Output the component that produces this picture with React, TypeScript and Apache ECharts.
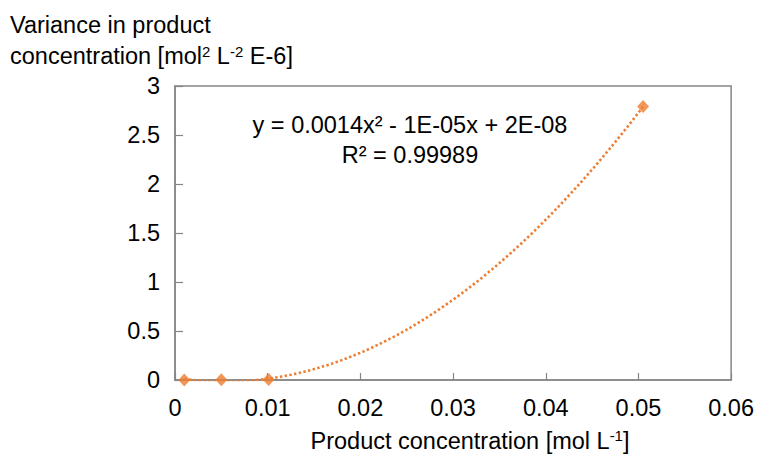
import React, { useEffect, useRef } from "react";
import * as echarts from "echarts";

const concentrations = [0.001, 0.005, 0.0101, 0.0505];
const variances = [0.0003, 0.002, 0.005, 2.79];
const xTicks = { min: 0, max: 0.06, interval: 0.01 };
const yTicks = { min: 0, max: 3, interval: 0.5 };
const equationLine = "y = 0.0014x² - 1E-05x + 2E-08";
const r2Line = "R² = 0.99989";

const ORANGE = "#ED7D31";
const GRAY = "#868686";
const FONT = "Liberation Sans";
const FS = 23.5;

// least squares quadratic fit (trendline) computed from the data
function fitQuadratic(xs: number[], ys: number[]) {
  const s = 100; // scale for numeric stability
  const X = xs.map((x) => x * s);
  const S = (p: number) => X.reduce((a, x) => a + Math.pow(x, p), 0);
  const T = (p: number) => X.reduce((a, x, i) => a + Math.pow(x, p) * ys[i], 0);
  const M = [
    [S(4), S(3), S(2), T(2)],
    [S(3), S(2), S(1), T(1)],
    [S(2), S(1), X.length, T(0)],
  ];
  for (let i = 0; i < 3; i++) {
    let p = i;
    for (let r = i + 1; r < 3; r++) if (Math.abs(M[r][i]) > Math.abs(M[p][i])) p = r;
    [M[i], M[p]] = [M[p], M[i]];
    for (let r = 0; r < 3; r++) {
      if (r === i) continue;
      const f = M[r][i] / M[i][i];
      for (let c = i; c < 4; c++) M[r][c] -= f * M[i][c];
    }
  }
  const a = M[0][3] / M[0][0];
  const b = M[1][3] / M[1][1];
  const c = M[2][3] / M[2][2];
  return (x: number) => a * (x * s) * (x * s) + b * (x * s) + c;
}

export default function App() {
  const ref = useRef<HTMLDivElement>(null);
  useEffect(() => {
    if (!ref.current) return;
    document.body.style.margin = "0";
    document.body.style.overflow = "hidden";
    const chart = echarts.init(ref.current, undefined, { renderer: "svg" });
    const f = fitQuadratic(concentrations, variances);
    const xStart = concentrations[0];
    const xEnd = concentrations[concentrations.length - 1];
    const trend: number[][] = [];
    const n = 120;
    for (let i = 0; i <= n; i++) {
      const x = xStart + ((xEnd - xStart) * i) / n;
      trend.push([x, f(x)]);
    }
    const textBase = { fontFamily: FONT, fontSize: FS, fill: "#000" };
    chart.setOption({
      animation: false,
      backgroundColor: "#fff",
      grid: {
        left: 175,
        top: 86,
        right: 25,
        bottom: 82,
        show: true,
        borderColor: GRAY,
        borderWidth: 1.5,
        containLabel: false,
      },
      xAxis: {
        type: "value",
        min: xTicks.min,
        max: xTicks.max,
        interval: xTicks.interval,
        axisLine: { show: true, lineStyle: { color: GRAY, width: 1.5 } },
        axisTick: { show: true, inside: true, length: 7, lineStyle: { color: GRAY, width: 1.2 } },
        axisLabel: { color: "#000", fontFamily: FONT, fontSize: FS, margin: 16 },
        splitLine: { show: false },
      },
      yAxis: {
        type: "value",
        min: yTicks.min,
        max: yTicks.max,
        interval: yTicks.interval,
        axisLine: { show: true, lineStyle: { color: GRAY, width: 1.5 } },
        axisTick: { show: true, inside: true, length: 8, lineStyle: { color: GRAY, width: 1.2 } },
        axisLabel: { color: "#000", fontFamily: FONT, fontSize: FS, margin: 15 },
        splitLine: { show: false },
      },
      series: [
        {
          type: "line",
          data: trend,
          showSymbol: false,
          symbol: "none",
          clip: true,
          lineStyle: { color: ORANGE, width: 2.6, type: [2.4, 2.4] },
          z: 2,
        },
        {
          type: "scatter",
          data: concentrations.map((x, i) => [x, variances[i]]),
          symbol: "diamond",
          symbolSize: [12, 13],
          itemStyle: { color: ORANGE },
          clip: false,
          z: 3,
        },
      ],
      graphic: [
        {
          type: "text",
          left: 10,
          top: 9,
          style: {
            text: "Variance in product\n{n|concentration [mol}{s|2}{n| L}{s|-2}{n| E-6]}",
            ...textBase,
            lineHeight: 31,
            rich: {
              n: { fontFamily: FONT, fontSize: FS, lineHeight: 31, fill: "#000" },
              s: { fontFamily: FONT, fontSize: 15, lineHeight: 31, verticalAlign: "top", padding: [4, 0, 0, 0], fill: "#000" },
            },
          },
        },
        {
          type: "text",
          x: 470,
          y: 441,
          style: {
            text: "{n|Product concentration [mol L}{s|-1}{n|]}",
            ...textBase,
            align: "center",
            verticalAlign: "middle",
            rich: {
              n: { fontFamily: FONT, fontSize: FS, lineHeight: 26, fill: "#000" },
              s: { fontFamily: FONT, fontSize: 15, lineHeight: 26, verticalAlign: "top", padding: [0, 0, 0, 0], fill: "#000" },
            },
          },
        },
        {
          type: "text",
          x: 410,
          y: 125,
          style: { text: equationLine, ...textBase, align: "center", verticalAlign: "middle" },
        },
        {
          type: "text",
          x: 410,
          y: 155,
          style: { text: r2Line, ...textBase, align: "center", verticalAlign: "middle" },
        },
      ],
    });
    return () => chart.dispose();
  }, []);
  return <div ref={ref} style={{ width: 757, height: 462, position: "fixed", left: 0, top: 0 }} />;
}
